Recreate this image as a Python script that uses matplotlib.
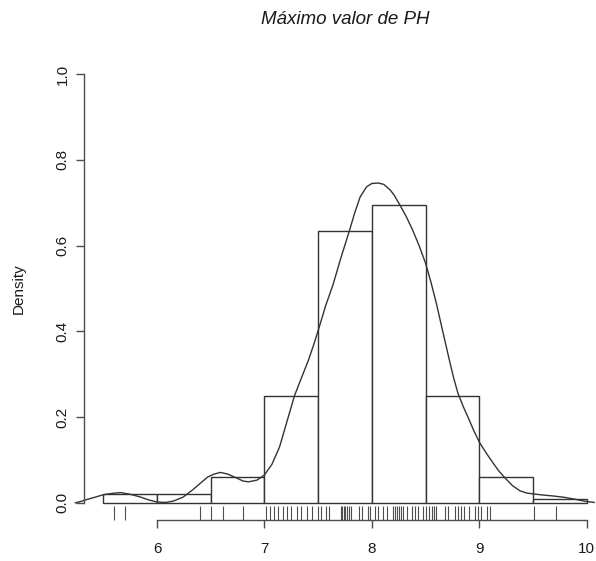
import numpy as np
import matplotlib
matplotlib.use("Agg")
import matplotlib.pyplot as plt

plt.rcParams['font.family'] = ['Liberation Sans', 'DejaVu Sans']

# histogram (density scale, bins of 0.5)
bin_edges = [5.5, 6.0, 6.5, 7.0, 7.5, 8.0, 8.5, 9.0, 9.5, 10.0]
bin_density = [0.02, 0.02, 0.06, 0.25, 0.635, 0.695, 0.25, 0.06, 0.008]

# kernel density curve
dens_x = [5.24, 5.30, 5.35, 5.42, 5.5, 5.58, 5.66, 5.75, 5.84, 5.92, 6.0, 6.08, 6.15,
          6.24, 6.33, 6.40, 6.47, 6.53, 6.59, 6.66, 6.74, 6.80, 6.85, 6.93,
          7.0, 7.07, 7.14, 7.21, 7.28, 7.35, 7.41, 7.46, 7.51, 7.57, 7.64, 7.71,
          7.79, 7.84, 7.89, 7.95, 8.0, 8.06, 8.11, 8.17, 8.21, 8.26, 8.32, 8.38,
          8.44, 8.5, 8.55, 8.6, 8.66, 8.72, 8.76, 8.8, 8.85, 8.9, 8.95, 9.0, 9.06,
          9.12, 9.18, 9.24, 9.31, 9.38, 9.44, 9.5, 9.6, 9.69, 9.79, 9.88, 10.0, 10.07]
dens_y = [0.0, 0.004, 0.008, 0.013, 0.019, 0.022, 0.024, 0.02, 0.014, 0.007, 0.002, 0.001, 0.004,
          0.013, 0.03, 0.045, 0.06, 0.067, 0.071, 0.067, 0.058, 0.051, 0.049, 0.053,
          0.065, 0.09, 0.13, 0.19, 0.25, 0.295, 0.333, 0.37, 0.41, 0.46, 0.51, 0.57,
          0.634, 0.676, 0.713, 0.737, 0.745, 0.746, 0.743, 0.73, 0.717, 0.695, 0.668, 0.636,
          0.60, 0.559, 0.515, 0.466, 0.40, 0.335, 0.293, 0.257, 0.225, 0.197, 0.168, 0.142, 0.118,
          0.096, 0.075, 0.058, 0.04, 0.028, 0.023, 0.021, 0.018, 0.016, 0.013, 0.009, 0.003, 0.001]

# rug of observations
rug = [5.60, 5.70, 6.40, 6.50, 6.61, 6.80, 7.01, 7.05, 7.09, 7.13, 7.17, 7.21, 7.25,
       7.30, 7.34, 7.40, 7.44, 7.50, 7.53, 7.57, 7.60, 7.71, 7.72, 7.74, 7.75, 7.77,
       7.79, 7.81, 7.88, 7.91, 7.96, 7.98, 8.03, 8.06, 8.10, 8.14, 8.20, 8.22, 8.23,
       8.25, 8.27, 8.29, 8.33, 8.37, 8.40, 8.43, 8.48, 8.50, 8.53, 8.56, 8.58, 8.60,
       8.68, 8.71, 8.77, 8.80, 8.83, 8.86, 8.90, 8.96, 8.99, 9.02, 9.07, 9.10, 9.51, 9.71]

x_ticks = [6, 7, 8, 9, 10]
y_ticks = [0.0, 0.2, 0.4, 0.6, 0.8, 1.0]

W, H = 596, 561
fig = plt.figure(figsize=(W / 100, H / 100), dpi=100)
ax = fig.add_axes([84 / W, 41 / H, 522 / W, 463 / H])
ax.set_xlim(5.32, 10.18)
ax.set_ylim(-0.04, 1.04)

lc = '0.2'
ax.bar(bin_edges[:-1], bin_density, width=np.diff(bin_edges), align='edge',
       facecolor='white', edgecolor=lc, linewidth=1.0)
ax.plot(dens_x, dens_y, color=lc, linewidth=1.0, clip_on=False)
ax.vlines(rug, -0.04, -0.04 + 0.0324, color='0.3', linewidth=0.8, clip_on=False)

for s in ['top', 'right']:
    ax.spines[s].set_visible(False)
ax.spines['left'].set_bounds(0, 1)
ax.spines['bottom'].set_bounds(6, 10)
for s in ['left', 'bottom']:
    ax.spines[s].set_color('0.3')
    ax.spines[s].set_linewidth(1.0)

ax.set_xticks(x_ticks)
ax.set_xticklabels([str(t) for t in x_ticks])
ax.set_yticks(y_ticks)
ax.set_yticklabels([f'{t:.1f}' for t in y_ticks])
ax.tick_params(axis='both', direction='out', length=5.5, width=1.0, color='0.3',
               labelsize=11, labelcolor='0.1')
ax.tick_params(axis='x', pad=10)
ax.tick_params(axis='y', pad=5, labelrotation=90)
for lab in ax.get_yticklabels():
    lab.set_va('center')

ax.set_ylabel('Density', fontsize=11, color='0.1')
ax.yaxis.set_label_coords(-0.111, 0.5)

fig.text(345 / W, 1 - 20 / H, 'Máximo valor de PH', ha='center', va='center',
         fontsize=13.5, style='italic', color='0.1')

fig.savefig('out.png', dpi=100)
